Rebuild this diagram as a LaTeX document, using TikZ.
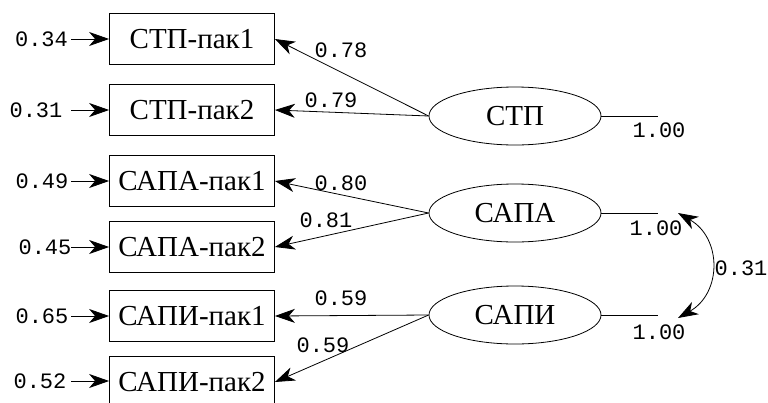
\documentclass[tikz,border=0pt]{standalone}
\usepackage{fontspec}
\usetikzlibrary{arrows.meta,shapes.geometric}
\newfontfamily\rusfont{Liberation Serif}
\newfontfamily\numfont{Liberation Mono}
\tikzset{
  obs/.style={draw, line width=0.8pt, minimum width=165pt, minimum height=51pt, inner sep=0pt, font=\rusfont\fontsize{29}{32}\selectfont},
  lat/.style={draw, ellipse, line width=0.8pt, minimum width=172pt, minimum height=58pt, inner sep=0pt, font=\rusfont\fontsize{29}{32}\selectfont},
  num/.style={inner sep=0pt, font=\numfont\fontsize{22}{24}\selectfont},
  tip/.style={},
  arr/.style={line width=0.8pt, -{Stealth[length=20pt,width=14pt,inset=6pt]}},
  dbl/.style={line width=0.8pt, {Stealth[length=20pt,width=14pt,inset=6pt]}-{Stealth[length=20pt,width=14pt,inset=6pt]}},
  ln/.style={line width=0.8pt}
}
\begin{document}
\begin{tikzpicture}[x=1pt,y=-1pt]
\useasboundingbox (0,0) rectangle (768,402);
% observed boxes
\node[obs] (b1) at (192,39) {СТП-пак1};
\node[obs] (b2) at (192,110) {СТП-пак2};
\node[obs] (b3) at (192,181) {САПА-пак1};
\node[obs] (b4) at (192,247) {САПА-пак2};
\node[obs] (b5) at (192,316) {САПИ-пак1};
\node[obs] (b6) at (192,382) {САПИ-пак2};
% latent ellipses
\node[lat] (e1) at (515,116) {СТП};
\node[lat] (e2) at (515,213) {САПА};
\node[lat] (e3) at (515,315) {САПИ};
% error labels and arrows
\node[num] (u1) at (41.5,39) {0.34};
\node[num] (u2) at (36,110) {0.31};
\node[num] (u3) at (42,181) {0.49};
\node[num] (u4) at (45,247) {0.45};
\node[num] (u5) at (42,316) {0.65};
\node[num] (u6) at (40,381) {0.52};
\coordinate (s1) at (71,39);
\coordinate (s2) at (71,110);
\coordinate (s3) at (71,181);
\coordinate (s4) at (71,247);
\coordinate (s5) at (71,316);
\coordinate (s6) at (71,381);
\foreach \i in {1,...,6} \draw[arr] (s\i) -- (b\i.west |- s\i);
% loadings
\draw[arr] (e1.west) -- (b1.east);
\draw[arr] (e1.west) -- (b2.east);
\draw[arr] (e2.west) -- (b3.east);
\draw[arr] (e2.west) -- (b4.east);
\draw[arr] (e3.west) -- (b5.east);
\draw[arr] (e3.west) -- (b6.east);
\node[num] (l1) at (341,50) {0.78};
\node[num] (l2) at (331,100) {0.79};
\node[num] (l3) at (341,183) {0.80};
\node[num] (l4) at (326,220) {0.81};
\node[num] (l5) at (341,298) {0.59};
\node[num] (l6) at (323,345) {0.59};
% variances
\coordinate (v1) at (658,116);
\coordinate (v2) at (658,213);
\coordinate (v3) at (658,315);
\draw[ln] (e1.east) -- (v1);
\draw[ln] (e2.east) -- (v2);
\draw[ln] (e3.east) -- (v3);
\node[num] (w1) at (659,130) {1.00};
\node[num] (w2) at (656,228) {1.00};
\node[num] (w3) at (659,332) {1.00};
% covariance
\coordinate (ca) at (678,213);
\coordinate (cb) at (678,318);
\draw[dbl] (ca) .. controls (722,238) and (722,293) .. (cb);
\node[num] (r1) at (741,268) {0.31};
\end{tikzpicture}
\end{document}
